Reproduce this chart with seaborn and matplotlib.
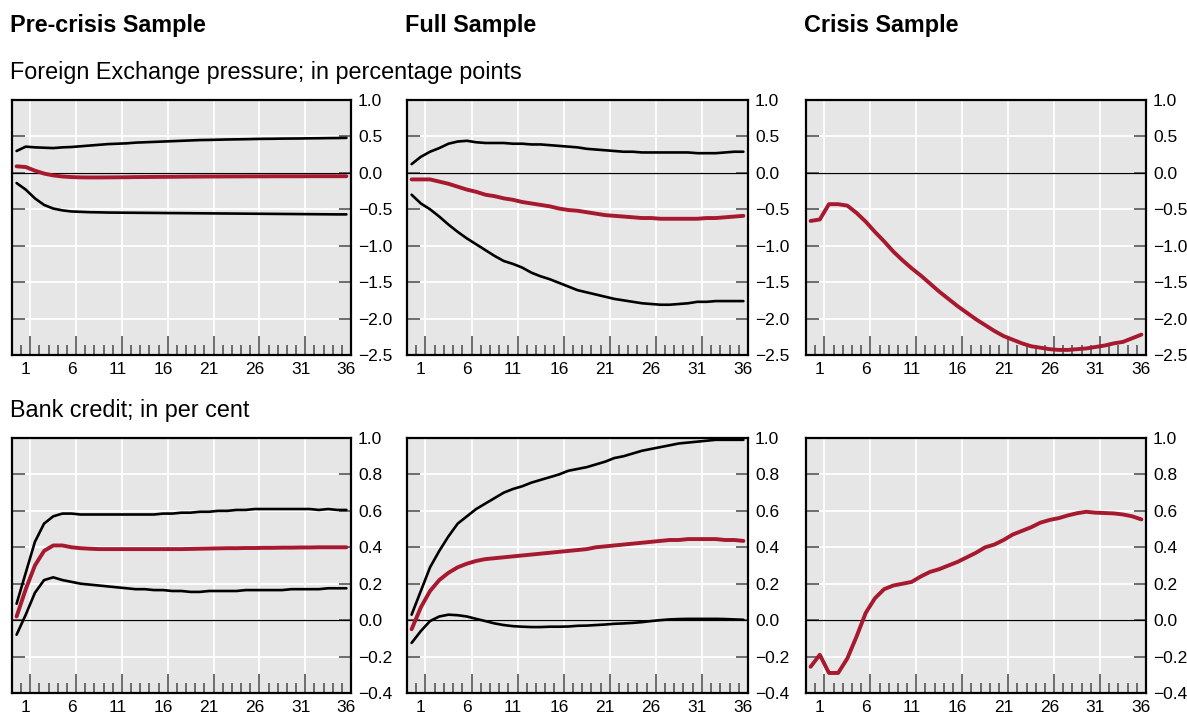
import numpy as np
import pandas as pd
import matplotlib
matplotlib.use("Agg")
import matplotlib.pyplot as plt
from matplotlib.ticker import FixedLocator, FuncFormatter
import seaborn as sns

# ---------------- data ----------------
horizon = list(range(0, 37))
x_labels = ["1", "6", "11", "16", "21", "26", "31", "36"]
x_label_pos = [1, 6, 11, 16, 21, 26, 31, 36]

col_titles = ["Pre-crisis Sample", "Full Sample", "Crisis Sample"]
row_titles = ["Foreign Exchange pressure; in percentage points", "Bank credit; in per cent"]

fx_pre_upper = [0.30, 0.36, 0.35, 0.345, 0.34, 0.35, 0.355, 0.365, 0.375, 0.385, 0.395, 0.40, 0.405,
                0.415, 0.42, 0.425, 0.43, 0.435, 0.44, 0.445, 0.45, 0.452, 0.455, 0.458, 0.46, 0.462,
                0.465, 0.467, 0.468, 0.47, 0.471, 0.472, 0.474, 0.475, 0.477, 0.478, 0.48]
fx_pre_mid = [0.09, 0.08, 0.03, -0.01, -0.035, -0.05, -0.058, -0.062, -0.063, -0.063, -0.062, -0.061,
              -0.06, -0.058, -0.057, -0.056, -0.055, -0.054, -0.053, -0.052, -0.051, -0.05, -0.05, -0.049,
              -0.049, -0.048, -0.048, -0.048, -0.047, -0.047, -0.047, -0.047, -0.046, -0.046, -0.046, -0.046, -0.046]
fx_pre_lower = [-0.14, -0.23, -0.35, -0.44, -0.49, -0.515, -0.53, -0.535, -0.54, -0.542, -0.545, -0.546,
                -0.547, -0.548, -0.549, -0.55, -0.551, -0.552, -0.553, -0.554, -0.555, -0.556, -0.557, -0.558,
                -0.559, -0.56, -0.561, -0.562, -0.563, -0.564, -0.565, -0.566, -0.567, -0.568, -0.569, -0.57, -0.57]

fx_full_upper = [0.12, 0.22, 0.29, 0.34, 0.40, 0.43, 0.44, 0.42, 0.41, 0.41, 0.41, 0.40, 0.40,
                 0.39, 0.39, 0.38, 0.37, 0.36, 0.35, 0.33, 0.32, 0.31, 0.30, 0.29, 0.29, 0.28,
                 0.28, 0.28, 0.28, 0.28, 0.28, 0.27, 0.27, 0.27, 0.28, 0.29, 0.29]
fx_full_mid = [-0.09, -0.09, -0.09, -0.12, -0.15, -0.19, -0.23, -0.26, -0.30, -0.32, -0.35, -0.37,
               -0.40, -0.42, -0.44, -0.46, -0.49, -0.51, -0.52, -0.54, -0.56, -0.58, -0.59, -0.60,
               -0.61, -0.62, -0.62, -0.63, -0.63, -0.63, -0.63, -0.63, -0.62, -0.62, -0.61, -0.60, -0.59]
fx_full_lower = [-0.30, -0.42, -0.50, -0.60, -0.71, -0.81, -0.90, -0.98, -1.06, -1.14, -1.21, -1.25,
                 -1.30, -1.37, -1.42, -1.46, -1.51, -1.56, -1.61, -1.64, -1.67, -1.70, -1.73, -1.75,
                 -1.77, -1.79, -1.80, -1.81, -1.81, -1.80, -1.79, -1.77, -1.77, -1.76, -1.76, -1.76, -1.76]

fx_crisis_mid = [-0.66, -0.64, -0.43, -0.43, -0.45, -0.55, -0.67, -0.81, -0.94, -1.08, -1.20, -1.31,
                 -1.41, -1.52, -1.63, -1.73, -1.83, -1.92, -2.01, -2.09, -2.17, -2.24, -2.29, -2.34,
                 -2.38, -2.40, -2.42, -2.43, -2.43, -2.42, -2.41, -2.39, -2.37, -2.34, -2.32, -2.27, -2.22]

bc_pre_upper = [0.09, 0.26, 0.43, 0.53, 0.57, 0.585, 0.585, 0.58, 0.58, 0.58, 0.58, 0.58, 0.58,
                0.58, 0.58, 0.58, 0.585, 0.585, 0.59, 0.59, 0.595, 0.595, 0.60, 0.60, 0.605, 0.605,
                0.61, 0.61, 0.61, 0.61, 0.61, 0.61, 0.61, 0.605, 0.61, 0.605, 0.605]
bc_pre_mid = [0.02, 0.17, 0.30, 0.38, 0.41, 0.41, 0.40, 0.395, 0.392, 0.39, 0.39, 0.39, 0.39, 0.39,
              0.39, 0.39, 0.39, 0.39, 0.39, 0.391, 0.392, 0.393, 0.394, 0.395, 0.395, 0.396, 0.396,
              0.397, 0.397, 0.398, 0.398, 0.399, 0.399, 0.40, 0.40, 0.40, 0.40]
bc_pre_lower = [-0.08, 0.03, 0.15, 0.22, 0.235, 0.22, 0.21, 0.20, 0.195, 0.19, 0.185, 0.18, 0.175,
                0.17, 0.17, 0.165, 0.165, 0.16, 0.16, 0.155, 0.155, 0.16, 0.16, 0.16, 0.16, 0.165,
                0.165, 0.165, 0.165, 0.165, 0.17, 0.17, 0.17, 0.17, 0.175, 0.175, 0.175]

bc_full_upper = [0.03, 0.16, 0.29, 0.38, 0.46, 0.53, 0.57, 0.61, 0.64, 0.67, 0.70, 0.72, 0.735,
                 0.755, 0.77, 0.785, 0.80, 0.82, 0.83, 0.84, 0.855, 0.87, 0.89, 0.90, 0.915, 0.93,
                 0.94, 0.95, 0.96, 0.97, 0.975, 0.98, 0.985, 0.99, 0.99, 0.99, 0.99]
bc_full_mid = [-0.05, 0.07, 0.16, 0.22, 0.26, 0.29, 0.31, 0.325, 0.335, 0.34, 0.345, 0.35, 0.355,
               0.36, 0.365, 0.37, 0.375, 0.38, 0.385, 0.39, 0.40, 0.405, 0.41, 0.415, 0.42, 0.425,
               0.43, 0.435, 0.44, 0.44, 0.445, 0.445, 0.445, 0.445, 0.44, 0.44, 0.435]
bc_full_lower = [-0.125, -0.06, -0.005, 0.02, 0.03, 0.027, 0.02, 0.007, -0.005, -0.018, -0.027,
                 -0.033, -0.036, -0.038, -0.038, -0.036, -0.036, -0.035, -0.031, -0.03, -0.027,
                 -0.024, -0.02, -0.018, -0.015, -0.011, -0.005, 0.0, 0.004, 0.006, 0.007, 0.007,
                 0.007, 0.007, 0.006, 0.004, 0.002]

bc_crisis_mid = [-0.256, -0.19, -0.29, -0.29, -0.21, -0.09, 0.04, 0.12, 0.17, 0.19, 0.20, 0.21,
                 0.24, 0.265, 0.28, 0.30, 0.32, 0.345, 0.37, 0.40, 0.415, 0.44, 0.47, 0.49, 0.51,
                 0.535, 0.55, 0.56, 0.575, 0.587, 0.595, 0.59, 0.588, 0.586, 0.58, 0.57, 0.553]

fx_yticks = [-2.5, -2.0, -1.5, -1.0, -0.5, 0.0, 0.5, 1.0]
bc_yticks = [-0.4, -0.2, 0.0, 0.2, 0.4, 0.6, 0.8, 1.0]

panels = [
    [(fx_pre_upper, fx_pre_mid, fx_pre_lower), (fx_full_upper, fx_full_mid, fx_full_lower), (None, fx_crisis_mid, None)],
    [(bc_pre_upper, bc_pre_mid, bc_pre_lower), (bc_full_upper, bc_full_mid, bc_full_lower), (None, bc_crisis_mid, None)],
]
row_yticks = [fx_yticks, bc_yticks]

# ---------------- style ----------------
sns.set_style("white")
plt.rcParams["font.family"] = ["Liberation Sans", "DejaVu Sans"]
plt.rcParams["text.color"] = "black"
plt.rcParams["xtick.labelcolor"] = "black"
plt.rcParams["ytick.labelcolor"] = "black"

RED = "#a6192e"
BG = "#e6e6e6"
TICKC = "#555555"

fig = plt.figure(figsize=(11.87, 7.17), dpi=100)
W, H = 1187.0, 717.0
col_x = [(12, 351), (407, 748), (806, 1146)]
row_y = [(100, 355), (438, 693)]

def fmt(v, pos):
    s = f"{v:.1f}"
    if s == "-0.0":
        s = "0.0"
    return s.replace("-", "\u2212")

for r in range(2):
    for c in range(3):
        x0, x1 = col_x[c]
        y0, y1 = row_y[r]
        ax = fig.add_axes([x0 / W, 1 - y1 / H, (x1 - x0) / W, (y1 - y0) / H])
        ax.set_facecolor(BG)
        upper, mid, lower = panels[r][c]
        ax.axhline(0, color="black", lw=0.9, zorder=2)
        for band in (upper, lower):
            if band is not None:
                sns.lineplot(x=horizon, y=band, ax=ax, color="black", lw=1.9, zorder=3)
        sns.lineplot(x=horizon, y=mid, ax=ax, color=RED, lw=2.8, zorder=4)

        yt = row_yticks[r]
        ax.set_ylim(yt[0], yt[-1])
        ax.set_xlim(-0.5, 36.5)
        ax.set_yticks(yt)
        ax.yaxis.set_major_formatter(FuncFormatter(fmt))
        ax.tick_params(axis="y", which="major", direction="in", left=True, right=True,
                       labelleft=False, labelright=True, length=9, width=1.2,
                       color=TICKC, labelsize=12.5, pad=5, labelcolor="black")
        # x ticks: boundaries between periods
        ax.xaxis.set_major_locator(FixedLocator([1.5, 6.5, 11.5, 16.5, 21.5, 26.5, 31.5]))
        ax.xaxis.set_minor_locator(FixedLocator([k + 0.5 for k in range(36)]))
        ax.tick_params(axis="x", which="major", direction="in", bottom=True, top=False,
                       length=14, width=1.2, color=TICKC, labelbottom=False)
        ax.tick_params(axis="x", which="minor", direction="in", bottom=True, top=False,
                       length=7, width=1.2, color=TICKC)
        ax.grid(True, axis="both", which="major", color="white", lw=1.3, zorder=0)
        ax.set_axisbelow(True)
        sec = ax.secondary_xaxis("bottom")
        sec.set_xticks(x_label_pos)
        sec.set_xticklabels(x_labels)
        sec.tick_params(axis="x", length=0, labelsize=12.5, pad=5, labelcolor="black")
        for sp in sec.spines.values():
            sp.set_visible(False)
        for sp in ax.spines.values():
            sp.set_color("black")
            sp.set_linewidth(1.6)
        ax.set_xlabel("")
        ax.set_ylabel("")

for c in range(3):
    fig.text(col_x[c][0] / W - 0.0017, 1 - 32 / H, col_titles[c], fontsize=16.8,
             fontweight="bold", va="baseline", ha="left", color="black")
fig.text(10 / W, 1 - 79 / H, row_titles[0], fontsize=16.8, va="baseline", ha="left", color="black")
fig.text(10 / W, 1 - 417 / H, row_titles[1], fontsize=16.8, va="baseline", ha="left", color="black")

fig.savefig("out.png", dpi=100)
